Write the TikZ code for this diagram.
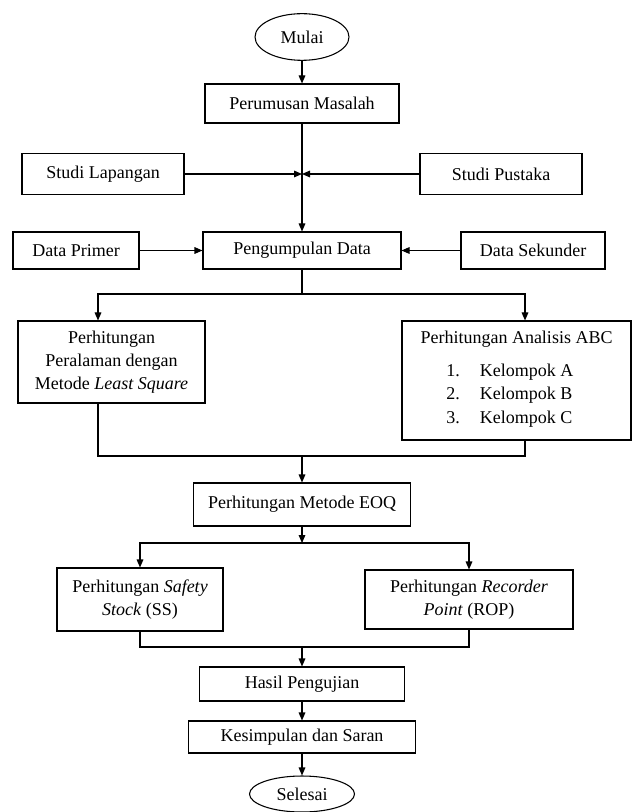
\documentclass[tikz,border=0pt]{standalone}
\usepackage{fontspec}
\setmainfont{Liberation Serif}
\usepackage{tikz}
\usetikzlibrary{arrows.meta,shapes.geometric}

\newcommand{\boxfont}{\fontsize{13.5}{17.4}\selectfont}

\begin{document}
\begin{tikzpicture}[
    x=0.75pt, y=-0.75pt,
    box/.style={rectangle, draw, line width=0.8pt, inner sep=2pt, align=center, font=\boxfont},
    term/.style={ellipse, draw, line width=0.8pt, inner sep=1pt, font=\boxfont},
    arrow/.style={-{Triangle[length=6pt,width=5pt]}, line width=0.8pt},
    link/.style={line width=0.8pt}
]
\useasboundingbox (0,0) rectangle (633,812);

% Start and problem statement
\node[term, minimum width=70.5pt, minimum height=35pt] (mulai) at (302,37) {Mulai};
\node[box, minimum width=145.5pt, minimum height=29.25pt] (rumus) at (302,103.5) {Perumusan Masalah};

% Study inputs
\node[box, minimum width=121.5pt, minimum height=30.75pt] (lapangan) at (103,174) {Studi Lapangan};
\node[box, minimum width=121.5pt, minimum height=30.75pt] (pustaka) at (501,174) {Studi Pustaka};
\coordinate (studi) at (302,174);

% Data collection
\node[box, minimum width=94.5pt, minimum height=27.75pt] (primer) at (76,250.5) {Data Primer};
\node[box, minimum width=148.5pt, minimum height=27.75pt] (kumpul) at (302,250.5) {Pengumpulan Data};
\node[box, minimum width=108pt, minimum height=27.75pt] (sekunder) at (533,250.5) {Data Sekunder};

% Forecast and ABC analysis
\coordinate (kiri) at (98,294);
\coordinate (kanan) at (525,294);
\node[box, minimum width=140.25pt, minimum height=61.5pt] (peramalan) at (111.5,362) {Perhitungan\\Peralaman dengan\\Metode \textit{Least Square}};
\node[box, minimum width=171.75pt, minimum height=89.25pt] (abc) at (516.5,380.5) {Perhitungan Analisis ABC\\[9pt]
    \begin{tabular}{@{}l@{\hspace{15pt}}l@{}}1. & Kelompok A\\ 2. & Kelompok B\\ 3. & Kelompok C\end{tabular}\hspace*{10pt}};
\coordinate (gabung) at (302,456);

% EOQ and its results
\node[box, minimum width=162.75pt, minimum height=32.25pt] (eoq) at (302,504.5) {Perhitungan Metode EOQ};
\coordinate (cabang) at (302,543);
\node[box, minimum width=124.5pt, minimum height=47.25pt] (safety) at (140,599.5) {Perhitungan \textit{Safety}\\\textit{Stock} (SS)};
\node[box, minimum width=156pt, minimum height=44.25pt] (rop) at (469,599.5) {Perhitungan \textit{Recorder}\\\textit{Point} (ROP)};
\coordinate (temu) at (302,647);

% Closing steps
\node[box, minimum width=153.75pt, minimum height=25.5pt] (hasil) at (302,684) {Hasil Pengujian};
\node[box, minimum width=170.25pt, minimum height=24pt] (simpul) at (302,737) {Kesimpulan dan Saran};
\node[term, minimum width=78.75pt, minimum height=27pt] (selesai) at (302,794) {Selesai};

% Main flow arrows
\draw[arrow] (mulai) -- (rumus);
\draw[arrow] (rumus) -- (kumpul);
\draw[arrow] (lapangan) -- (studi);
\draw[arrow] (pustaka) -- (studi);
\draw[arrow] (primer) -- (kumpul);
\draw[arrow] (sekunder) -- (kumpul);

% Split and merge around the calculations
\draw[arrow] (kumpul.south) |- (kiri) -- (kiri |- peramalan.north);
\draw[arrow] (kumpul.south) |- (kanan) -- (kanan |- abc.north);
\draw[link] (kiri |- peramalan.south) |- (gabung) -| (kanan |- abc.south);
\draw[arrow] (gabung) -- (eoq);

\draw[arrow] (eoq) -- (cabang);
\draw[arrow] (cabang) -| (safety);
\draw[arrow] (cabang) -| (rop);
\draw[link] (safety) |- (temu) -| (rop);
\draw[arrow] (temu) -- (hasil);
\draw[arrow] (hasil) -- (simpul);
\draw[arrow] (simpul) -- (selesai);
\end{tikzpicture}
\end{document}
